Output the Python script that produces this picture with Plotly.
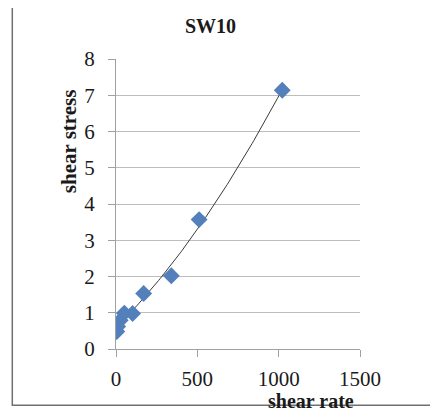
import numpy as np
import plotly.graph_objects as go

shear_rate = [5.1, 10.2, 26.0, 51.0, 102.0, 170.0, 340.0, 511.0, 1022.0]
shear_stress = [0.48, 0.62, 0.79, 0.99, 0.98, 1.53, 2.02, 3.57, 7.14]
x_ticks = [0, 500, 1000, 1500]
y_ticks = [0, 1, 2, 3, 4, 5, 6, 7, 8]

coef = np.polyfit(shear_rate, shear_stress, 2)
xt = np.linspace(min(shear_rate), max(shear_rate), 100)
yt = np.polyval(coef, xt)

font = "Liberation Serif, Times New Roman, serif"

fig = go.Figure()
fig.add_trace(go.Scatter(x=xt, y=yt, mode="lines",
                         line=dict(color="#3a3a3a", width=1), showlegend=False))
fig.add_trace(go.Scatter(x=shear_rate, y=shear_stress, mode="markers",
                         marker=dict(symbol="diamond", size=13, color="#5380BA"),
                         showlegend=False))

fig.update_layout(
    width=438, height=414,
    margin=dict(l=108, r=86, t=51, b=73),
    paper_bgcolor="white", plot_bgcolor="white",
    font=dict(family=font, size=21, color="#1a1a1a"),
    xaxis=dict(range=[0, 1500], tickvals=x_ticks, showgrid=False, zeroline=False,
               showline=True, linecolor="#a0a0a0", linewidth=1,
               ticks="outside", ticklen=7, tickcolor="#a0a0a0",
               tickfont=dict(size=21, family=font), ticklabelstandoff=4),
    yaxis=dict(range=[0, 8], tickvals=y_ticks, showgrid=True, gridcolor="#bdbdbd",
               gridwidth=1, zeroline=False,
               showline=True, linecolor="#a0a0a0", linewidth=1,
               ticks="outside", ticklen=7, tickcolor="#a0a0a0",
               tickfont=dict(size=21, family=font), ticklabelstandoff=9),
    annotations=[
        dict(text="<b>SW10</b>", x=0.386, y=1.114, xref="paper", yref="paper",
             xanchor="center", yanchor="middle",
             showarrow=False, font=dict(size=20, family=font)),
        dict(text="<b>shear stress</b>", x=-0.195, y=0.718, xref="paper", yref="paper",
             xanchor="center", yanchor="middle",
             showarrow=False, textangle=-90, font=dict(size=21, family=font)),
        dict(text="<b>shear rate</b>", x=0.798, y=-0.178, xref="paper", yref="paper",
             xanchor="center", yanchor="middle",
             showarrow=False, font=dict(size=20, family=font)),
    ],
    shapes=[
        dict(type="rect", xref="paper", yref="paper", x0=-0.425, x1=1.311,
             y0=-0.194, y1=1.192, line=dict(color="#707070", width=1.5)),
    ],
)

fig.write_html("out.html")
